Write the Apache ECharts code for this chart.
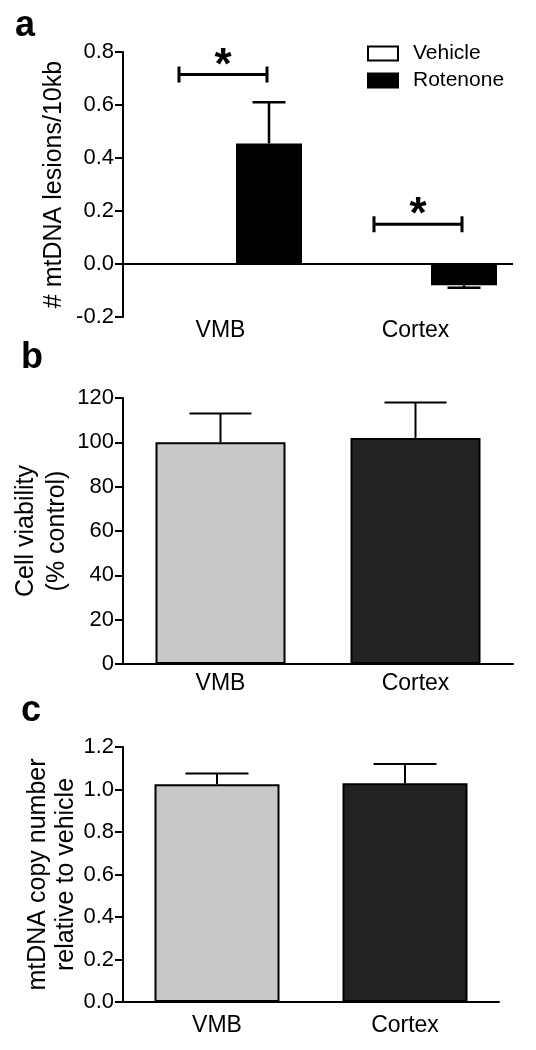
<!DOCTYPE html>
<html><head><meta charset="utf-8">
<script src="https://cdn.jsdelivr.net/npm/echarts@6/dist/echarts.min.js"></script>
<style>html,body{margin:0;padding:0;background:#fff}#c{width:536px;height:1050px}</style>
</head><body><div id="c"></div>
<script>
// ---------- data ----------
const categories = ['VMB', 'Cortex'];
const seriesNames = ['Vehicle', 'Rotenone'];
// panel a: # mtDNA lesions/10kb
const lesionsVehicle = [0, 0];
const lesionsRotenone = [0.455, -0.08];
const lesionsRotenoneErr = [0.155, 0.01];
const lesionsSigY = [0.715, 0.15];
const lesionsAxis = { min: -0.2, max: 0.8, interval: 0.2 };
// panel b: cell viability (% control)
const viability = [100, 102];
const viabilityErr = [13, 16];
const viabilityAxis = { min: 0, max: 120, interval: 20 };
// panel c: mtDNA copy number relative to vehicle
const copyNumber = [1.025, 1.03];
const copyNumberErr = [0.05, 0.09];
const copyAxis = { min: 0, max: 1.2, interval: 0.2 };

// ---------- style ----------
const FONT = '"Liberation Sans", Arial, Helvetica, sans-serif';
const LIGHT = '#c8c8c8', DARK = '#222222';
const A_BAR_W = 66, A_BAR_GAP = 0.47;
const A_OFF = A_BAR_W * (1 + A_BAR_GAP) / 2;

function errorBars(offset, capW, lw) {
  return function (params, api) {
    const i = api.value(0), v = api.value(1), e = api.value(2);
    const base = api.coord([i, v]);
    const tip = api.coord([i, v >= 0 ? v + e : v - e]);
    const x = base[0] + offset;
    return { type: 'group', children: [
      { type: 'line', shape: { x1: x, y1: base[1], x2: x, y2: tip[1] }, style: { stroke: '#000', lineWidth: lw } },
      { type: 'line', shape: { x1: x - capW / 2, y1: tip[1], x2: x + capW / 2, y2: tip[1] }, style: { stroke: '#000', lineWidth: lw } }
    ]};
  };
}
function sigBracket(params, api) {
  const i = api.value(0), y = api.value(1);
  const c = api.coord([i, y]);
  const x1 = c[0] - A_OFF + 7, x2 = c[0] + A_OFF - 2, yy = c[1];
  const st = { stroke: '#000', lineWidth: 3 };
  return { type: 'group', children: [
    { type: 'line', shape: { x1: x1, y1: yy, x2: x2, y2: yy }, style: st },
    { type: 'line', shape: { x1: x1, y1: yy - 8, x2: x1, y2: yy + 8 }, style: st },
    { type: 'line', shape: { x1: x2, y1: yy - 8, x2: x2, y2: yy + 8 }, style: st },
    { type: 'text', style: { text: '*', x: (x1 + x2) / 2, y: yy - 8, align: 'center', verticalAlign: 'middle', fontSize: 44, fontWeight: 'bold', fontFamily: FONT, fill: '#000' } }
  ]};
}
function yAxisCfg(gi, ax, name, gap, lh, decimals) {
  return {
    type: 'value', gridIndex: gi, min: ax.min, max: ax.max, interval: ax.interval,
    name: name, nameLocation: 'middle', nameGap: gap, nameMoveOverlap: false,
    nameTextStyle: { fontSize: 25, fontFamily: FONT, color: '#000', lineHeight: lh },
    axisLine: { show: true, lineStyle: { color: '#000', width: 2 } },
    axisTick: { show: true, length: 8, lineStyle: { color: '#000', width: 2 } },
    axisLabel: { fontSize: 22, fontFamily: FONT, color: '#000', margin: 9,
      formatter: v => decimals ? Number(v).toFixed(decimals) : String(v) },
    splitLine: { show: false }
  };
}
function xAxisCfg(gi, showLine, margin) {
  return {
    type: 'category', gridIndex: gi, data: categories,
    axisLine: { show: showLine, onZero: false, lineStyle: { color: '#000', width: 2 } },
    axisTick: { show: false },
    axisLabel: { fontSize: 23, fontFamily: FONT, color: '#000', margin: margin }
  };
}

const chart = echarts.init(document.getElementById('c'), null, { renderer: 'canvas' });
chart.setOption({
  animation: false,
  backgroundColor: '#fff',
  grid: [
    { left: 123, top: 52, width: 390, height: 265 },
    { left: 123, top: 398, width: 390, height: 266 },
    { left: 123, top: 747, width: 376, height: 255 }
  ],
  legend: {
    data: seriesNames, orient: 'vertical', left: 367, top: 43, padding: 0, itemWidth: 30, itemHeight: 14, itemGap: 6,
    icon: 'rect', textStyle: { fontSize: 21, fontFamily: FONT, color: '#000', padding: [0, 0, 0, 10] }
  },
  xAxis: [xAxisCfg(0, false, 2), xAxisCfg(1, true, 8), xAxisCfg(2, true, 12)],
  yAxis: [
    yAxisCfg(0, lesionsAxis, '# mtDNA lesions/10kb', 56, 25, 1),
    yAxisCfg(1, viabilityAxis, 'Cell viability\n(% control)', 50, 31, 0),
    yAxisCfg(2, copyAxis, 'mtDNA copy number\nrelative to vehicle', 43, 28, 1)
  ],
  graphic: [
    { type: 'text', left: 15, top: 8, style: { text: 'a', fontSize: 36, fontWeight: 'bold', fontFamily: FONT, fill: '#000' } },
    { type: 'text', left: 21, top: 340, style: { text: 'b', fontSize: 36, fontWeight: 'bold', fontFamily: FONT, fill: '#000' } },
    { type: 'text', left: 21, top: 693, style: { text: 'c', fontSize: 36, fontWeight: 'bold', fontFamily: FONT, fill: '#000' } }
  ],
  series: [
    { name: 'Vehicle', type: 'bar', xAxisIndex: 0, yAxisIndex: 0, data: lesionsVehicle, barWidth: A_BAR_W, barGap: (A_BAR_GAP * 100) + '%',
      itemStyle: { color: '#fff', borderColor: '#000', borderWidth: 2 } },
    { name: 'Rotenone', type: 'bar', xAxisIndex: 0, yAxisIndex: 0, data: lesionsRotenone, barWidth: A_BAR_W, barGap: (A_BAR_GAP * 100) + '%',
      itemStyle: { color: '#000', borderColor: '#000', borderWidth: 2 },
      markLine: { silent: true, symbol: 'none', label: { show: false }, lineStyle: { color: '#000', width: 2, type: 'solid' }, data: [{ yAxis: 0 }] } },
    { type: 'custom', xAxisIndex: 0, yAxisIndex: 0, z: 5, renderItem: errorBars(A_OFF, 33, 2.5),
      data: lesionsRotenone.map((v, i) => [i, v, lesionsRotenoneErr[i]]) },
    { type: 'custom', xAxisIndex: 0, yAxisIndex: 0, z: 5, renderItem: sigBracket,
      data: lesionsSigY.map((v, i) => [i, v]) },

    { type: 'bar', xAxisIndex: 1, yAxisIndex: 1, barWidth: 130,
      data: viability.map((v, i) => ({ value: v, itemStyle: { color: i === 0 ? LIGHT : DARK } })),
      itemStyle: { borderColor: '#000', borderWidth: 2 } },
    { type: 'custom', xAxisIndex: 1, yAxisIndex: 1, z: 5, renderItem: errorBars(0, 62, 2),
      data: viability.map((v, i) => [i, v, viabilityErr[i]]) },

    { type: 'bar', xAxisIndex: 2, yAxisIndex: 2, barWidth: 125,
      data: copyNumber.map((v, i) => ({ value: v, itemStyle: { color: i === 0 ? LIGHT : DARK } })),
      itemStyle: { borderColor: '#000', borderWidth: 2 } },
    { type: 'custom', xAxisIndex: 2, yAxisIndex: 2, z: 5, renderItem: errorBars(0, 63, 2),
      data: copyNumber.map((v, i) => [i, v, copyNumberErr[i]]) }
  ]
});
</script></body></html>
